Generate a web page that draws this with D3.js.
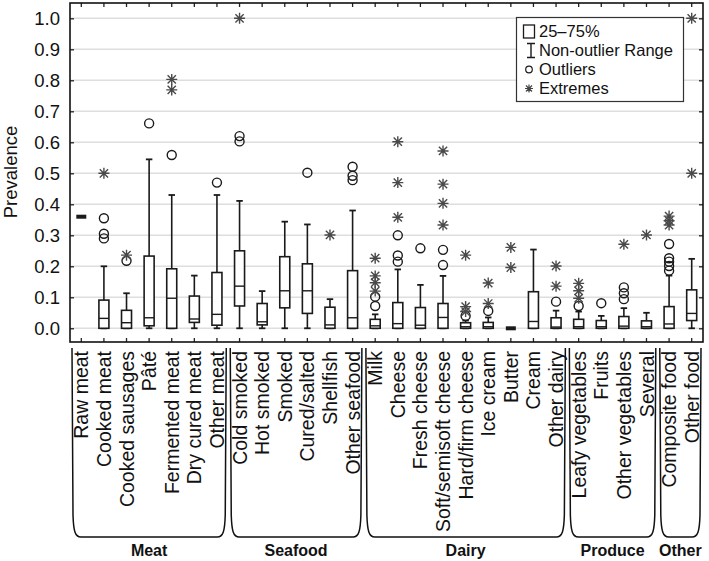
<!DOCTYPE html>
<html><head><meta charset="utf-8">
<script src="https://cdn.jsdelivr.net/npm/d3@7"></script>
<style>
html,body{margin:0;padding:0;background:#fff;}
svg{display:block;font-family:"Liberation Sans",Arial,sans-serif;}
</style></head>
<body>
<svg id="chart" width="709" height="561"></svg>
<script>
const categories = ["Raw meat","Cooked meat","Cooked sausages","Pâté","Fermented meat","Dry cured meat","Other meat",
  "Cold smoked","Hot smoked","Smoked","Cured/salted","Shellfish","Other seafood",
  "Milk","Cheese","Fresh cheese","Soft/semisoft cheese","Hard/firm cheese","Ice cream","Butter","Cream","Other dairy",
  "Leafy vegetables","Fruits","Other vegetables","Several",
  "Composite food","Other food"];
const q1      = [0.36,0,0,0.008,0,0.019,0.01, 0.072,0.011,0.066,0.048,0,0, 0,0,0,0,0,0,0,0,0, 0,0,0,0, 0,0.025];
const median  = [0.36,0.032,0.018,0.034,0.097,0.03,0.045, 0.136,0.021,0.121,0.121,0.011,0.034, 0.008,0.015,0.01,0.035,0.005,0.005,0,0.022,0.004, 0.005,0.005,0.007,0.005, 0.014,0.048];
const q3      = [0.36,0.091,0.058,0.233,0.192,0.104,0.18, 0.25,0.08,0.231,0.208,0.068,0.186, 0.029,0.083,0.067,0.08,0.018,0.019,0,0.118,0.034, 0.029,0.025,0.038,0.024, 0.07,0.124];
const whiskerLo = [0.36,0,0,0,0,0,0, 0,0,0,0,0,0, 0,0,0,0,0,0,0,0,0, 0,0,0,0, 0,0];
const whiskerHi = [0.36,0.20,0.113,0.545,0.43,0.17,0.43, 0.411,0.12,0.344,0.335,0.094,0.38, 0.045,0.19,0.14,0.169,0.025,0.035,0,0.254,0.057, 0.054,0.04,0.065,0.05, 0.17,0.224];
const outliers = [[],[0.355,0.305,0.29],[0.218],[0.661],[0.559],[],[0.47],
  [0.62,0.603],[],[],[0.502],[],[0.521,0.492,0.478],
  [0.102,0.072],[0.30,0.235,0.215],[0.258],[0.253,0.204],[0.04],[0.056],[],[],[0.086],
  [0.072],[0.081],[0.132,0.113,0.094],[],
  [0.272,0.226,0.215,0.201,0.186],[]];
const extremes = [[],[0.50],[0.236],[],[0.803,0.769],[],[],
  [1.0],[],[],[],[0.301],[],
  [0.226,0.169,0.147,0.12],[0.602,0.47,0.358],[],[0.572,0.465,0.403,0.333],[0.236,0.07,0.054],[0.146,0.08],[0.261,0.196],[],[0.201,0.136],
  [0.145,0.121,0.097],[],[0.271],[0.301],
  [0.362,0.347,0.333],[1.0,0.5]];
const groups = ["Meat","Seafood","Dairy","Produce","Other"];
const groupStart = [0,7,13,22,26];
const groupEnd   = [6,12,21,25,27];
const yTicks = [0,0.1,0.2,0.3,0.4,0.5,0.6,0.7,0.8,0.9,1.0];
const legendLabels = ["25–75%","Non-outlier Range","Outliers","Extremes"];

const svg = d3.select("#chart");
const L = 70, R = 703, T = 3, B = 342;
const x = d3.scaleBand().domain(categories).range([L, R]).padding(0);
const y = d3.scaleLinear().domain([-0.0442, 1.0494]).range([B, T]);
const bw = 10, cap = 6.5;

// gridlines
svg.append("g").selectAll("line").data(yTicks).join("line")
  .attr("x1", L).attr("x2", R).attr("y1", d => y(d)).attr("y2", d => y(d))
  .attr("stroke", "#dedede").attr("stroke-width", 1.5);

// axes
const fmt = d3.format(".1f");
const gl = svg.append("g").attr("transform", `translate(${L},0)`)
  .call(d3.axisLeft(y).tickValues(yTicks).tickFormat(fmt).tickSizeInner(-4).tickSizeOuter(0).tickPadding(10));
gl.select(".domain").remove();
gl.selectAll("text").attr("font-size", 18.5).attr("fill", "#111").attr("font-family", "Liberation Sans, Arial, sans-serif");
gl.selectAll("line").attr("stroke", "#222").attr("stroke-width", 1.3);

const gr = svg.append("g").attr("transform", `translate(${R},0)`)
  .call(d3.axisRight(y).tickValues(yTicks).tickFormat("").tickSizeInner(-4).tickSizeOuter(0));
gr.select(".domain").remove();
gr.selectAll("line").attr("stroke", "#222").attr("stroke-width", 1.3);

const gt = svg.append("g").attr("transform", `translate(0,${T})`)
  .call(d3.axisTop(x).tickFormat("").tickSizeInner(-4).tickSizeOuter(0));
gt.select(".domain").remove();
gt.selectAll("line").attr("stroke", "#222").attr("stroke-width", 1.3);

const gb = svg.append("g").attr("transform", `translate(0,${B})`)
  .call(d3.axisBottom(x).tickSizeInner(-4).tickSizeOuter(0));
gb.select(".domain").remove();
gb.selectAll("line").attr("stroke", "#222").attr("stroke-width", 1.3);
gb.selectAll("text")
  .attr("transform", "rotate(-90)")
  .attr("text-anchor", "end")
  .attr("x", -9).attr("y", 0).attr("dy", "0.36em")
  .attr("font-size", 19.5).attr("fill", "#111")
  .attr("font-family", "Liberation Sans, Arial, sans-serif");

// frame
svg.append("rect").attr("x", L).attr("y", T).attr("width", R - L).attr("height", B - T)
  .attr("fill", "none").attr("stroke", "#111").attr("stroke-width", 1.6);

// boxes
const data = categories.map((c, i) => ({c, i}));
const cx = d => x(d.c) + x.bandwidth() / 2;
const g = svg.append("g");
const ink = "#1a1a1a";
data.forEach(d => {
  const i = d.i, X = cx(d);
  const gg = g.append("g");
  gg.append("line").attr("x1", X).attr("x2", X).attr("y1", y(q3[i])).attr("y2", y(whiskerHi[i]))
    .attr("stroke", ink).attr("stroke-width", 1.6);
  gg.append("line").attr("x1", X).attr("x2", X).attr("y1", y(q1[i])).attr("y2", y(whiskerLo[i]))
    .attr("stroke", ink).attr("stroke-width", 1.6);
  [whiskerHi[i], whiskerLo[i]].forEach(v => {
    gg.append("line").attr("x1", X - cap / 2).attr("x2", X + cap / 2).attr("y1", y(v)).attr("y2", y(v))
      .attr("stroke", ink).attr("stroke-width", 1.8);
  });
  const h = y(q1[i]) - y(q3[i]);
  if (h < 0.5) {
    gg.append("rect").attr("x", X - bw / 2).attr("y", y(q3[i]) - 2).attr("width", bw).attr("height", 4)
      .attr("fill", ink);
  } else {
    gg.append("rect").attr("x", X - bw / 2).attr("y", y(q3[i])).attr("width", bw).attr("height", h)
      .attr("fill", "#fff").attr("stroke", ink).attr("stroke-width", 1.6);
    gg.append("line").attr("x1", X - bw / 2).attr("x2", X + bw / 2).attr("y1", y(median[i])).attr("y2", y(median[i]))
      .attr("stroke", ink).attr("stroke-width", 1.4);
  }
  outliers[i].forEach(v => {
    gg.append("circle").attr("cx", X).attr("cy", y(v)).attr("r", 4.5)
      .attr("fill", "none").attr("stroke", ink).attr("stroke-width", 1.4);
  });
  extremes[i].forEach(v => {
    gg.append("path").attr("d", starPath(X, y(v), 5.5))
      .attr("fill", "none").attr("stroke", "#4a4a4a").attr("stroke-width", 1.4);
  });
});

function starPath(cx, cy, r) {
  const a = r * 0.75;
  return `M${cx},${cy - r}L${cx},${cy + r}M${cx - r},${cy}L${cx + r},${cy}` +
         `M${cx - a},${cy - a}L${cx + a},${cy + a}M${cx - a},${cy + a}L${cx + a},${cy - a}`;
}

// legend
const lg = svg.append("g");
lg.append("rect").attr("x", 516.5).attr("y", 17.5).attr("width", 167).attr("height", 84)
  .attr("fill", "#fff").attr("stroke", "#333").attr("stroke-width", 1.2);
const rowY = [31.5, 50.5, 69.5, 88.5];
legendLabels.forEach((t, k) => {
  lg.append("text").attr("x", 539).attr("y", rowY[k]).attr("dy", "0.35em")
    .attr("font-size", 16.5).attr("fill", "#111").text(t);
});
lg.append("rect").attr("x", 523.5).attr("y", rowY[0] - 6.5).attr("width", 11).attr("height", 13)
  .attr("fill", "#fff").attr("stroke", ink).attr("stroke-width", 1.3);
lg.append("path").attr("d", `M531,${rowY[1] - 7}L531,${rowY[1] + 7}M527,${rowY[1] - 7}L535,${rowY[1] - 7}M527,${rowY[1] + 7}L535,${rowY[1] + 7}`)
  .attr("stroke", ink).attr("stroke-width", 1.4).attr("fill", "none");
lg.append("circle").attr("cx", 529).attr("cy", rowY[2]).attr("r", 3.3)
  .attr("fill", "none").attr("stroke", ink).attr("stroke-width", 1.2);
lg.append("path").attr("d", starPath(529, rowY[3], 4)).attr("stroke", "#444").attr("stroke-width", 1.2).attr("fill", "none");

// group brackets
const bTop = 348, bBot = 537;
groups.forEach((gname, k) => {
  const x0 = x(categories[groupStart[k]]) + 2;
  const x1 = x(categories[groupEnd[k]]) + x.bandwidth() - 2;
  const p = `M${x0},${bTop}L${x0 + 1},${bBot - 22}C${x0 + 1.5},${bBot - 6} ${x0 + 3},${bBot} ${x0 + 9},${bBot}` +
            `L${x1 - 9},${bBot}C${x1 - 3},${bBot} ${x1 - 1.5},${bBot - 6} ${x1 - 1},${bBot - 22}L${x1},${bTop}`;
  svg.append("path").attr("d", p).attr("fill", "none").attr("stroke", "#111").attr("stroke-width", 1.5);
  svg.append("text").attr("x", (x0 + x1) / 2).attr("y", 556).attr("text-anchor", "middle")
    .attr("font-size", 16).attr("font-weight", "bold").attr("fill", "#111").text(gname);
});

// y axis title
svg.append("text").attr("transform", `translate(17,172) rotate(-90)`).attr("text-anchor", "middle")
  .attr("font-size", 18.5).attr("fill", "#111").text("Prevalence");
</script>
</body></html>
